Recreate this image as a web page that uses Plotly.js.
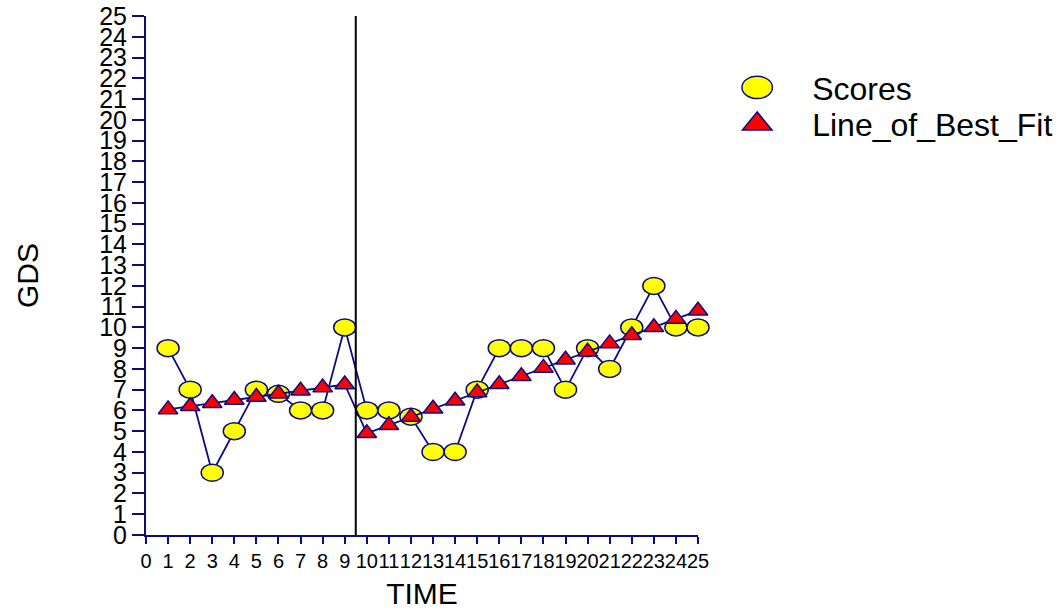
<!DOCTYPE html>
<html>
<head>
<meta charset="utf-8">
<script src="https://cdn.plot.ly/plotly-3.0.1.min.js"></script>
<style>
  html, body { margin: 0; padding: 0; background: #fff; }
  #chart { width: 1060px; height: 610px; }
</style>
</head>
<body>
<div id="chart"></div>
<script>
// Session numbers for each measurement
const time = [1, 2, 3, 4, 5, 6, 7, 8, 9, 10, 11, 12, 13, 14, 15, 16, 17, 18, 19, 20, 21, 22, 23, 24, 25];
// Observed GDS scores
const scores = [9, 7, 3, 5, 7, 6.8, 6, 6, 10, 6, 6, 5.7, 4, 4, 7, 9, 9, 9, 7, 9, 8, 10, 12, 10, 10];
// Fitted trend values (baseline phase 1-9, treatment phase 10-25)
const bestFit = [6.05, 6.2, 6.35, 6.5, 6.65, 6.8, 6.95, 7.1, 7.25,
                 4.9, 5.29, 5.69, 6.08, 6.47, 6.87, 7.26, 7.65, 8.05, 8.44, 8.83, 9.23, 9.62, 10.01, 10.41, 10.8];
// Phase change between sessions 9 and 10
const phaseChange = 9.5;
// Axis tick values
const xTicks = [0, 1, 2, 3, 4, 5, 6, 7, 8, 9, 10, 11, 12, 13, 14, 15, 16, 17, 18, 19, 20, 21, 22, 23, 24, 25];
const yTicks = [0, 1, 2, 3, 4, 5, 6, 7, 8, 9, 10, 11, 12, 13, 14, 15, 16, 17, 18, 19, 20, 21, 22, 23, 24, 25];

const NAVY = '#0c0c80';
const FONT = 'Liberation Sans, Arial, sans-serif';

const traces = [
  {
    x: time, y: scores, name: 'Scores', type: 'scatter', mode: 'lines+markers',
    line: { color: NAVY, width: 1.8 },
    marker: { symbol: 'circle', size: 17, color: '#ffff00', line: { color: NAVY, width: 1.5 } },
    cliponaxis: false
  },
  {
    x: time, y: bestFit, name: 'Line_of_Best_Fit', type: 'scatter', mode: 'lines+markers',
    line: { color: NAVY, width: 1.8 },
    marker: { symbol: 'triangle-up', size: 17, color: '#ff0000', line: { color: NAVY, width: 1.5 } },
    cliponaxis: false
  }
];

const layout = {
  width: 1060, height: 610,
  margin: { l: 146, r: 362, t: 16, b: 75, autoexpand: false },
  paper_bgcolor: '#ffffff', plot_bgcolor: '#ffffff',
  font: { family: FONT, color: '#000000' },
  showlegend: true,
  legend: {
    x: 1.071, xanchor: 'left', y: 0.915, yanchor: 'top',
    font: { family: FONT, size: 32, color: '#000000' },
    bgcolor: 'rgba(0,0,0,0)', itemwidth: 30
  },
  xaxis: {
    range: [0, 25], tickmode: 'array', tickvals: xTicks, ticktext: xTicks.map(String),
    tickangle: 0,
    showgrid: false, zeroline: false, showline: true, linecolor: NAVY, linewidth: 2,
    ticks: 'outside', ticklen: 7, tickcolor: NAVY, tickwidth: 2,
    tickfont: { family: FONT, size: 20, color: '#000000' },
    title: { text: 'TIME', font: { family: FONT, size: 30, color: '#000000' }, standoff: 14 },
    automargin: false
  },
  yaxis: {
    range: [0, 25], tickmode: 'array', tickvals: yTicks, ticktext: yTicks.map(String),
    showgrid: false, zeroline: false, showline: true, linecolor: NAVY, linewidth: 2,
    ticks: 'outside', ticklen: 12, tickcolor: NAVY, tickwidth: 2,
    tickfont: { family: FONT, size: 25, color: '#000000' },
    title: { text: 'GDS', font: { family: FONT, size: 30, color: '#000000' }, standoff: 52 },
    automargin: false
  },
  shapes: [
    { type: 'line', xref: 'x', yref: 'y', x0: phaseChange, x1: phaseChange, y0: 0, y1: 25,
      line: { color: '#000000', width: 2 } }
  ]
};

const gd = document.getElementById('chart');
Plotly.newPlot(gd, traces, layout, { staticPlot: true }).then(function () {
  // Stretch the score markers horizontally into ellipses
  const scoreTrace = gd.querySelectorAll('.scatterlayer .trace')[0];
  scoreTrace.querySelectorAll('path.point').forEach(function (p) {
    p.setAttribute('transform', p.getAttribute('transform') + ' scale(1.3,1)');
    p.style.vectorEffect = 'non-scaling-stroke';
  });
  // Legend: markers only, drawn larger, with a wider gap before the label
  const legend = gd.querySelector('.legend');
  const clip = legend && legend.querySelector('.scrollbox');
  if (clip) clip.removeAttribute('clip-path');
  legend.querySelectorAll('clipPath rect').forEach(function (r) {
    r.setAttribute('width', '400');
  });
  const items = gd.querySelectorAll('.legend .traces');
  items.forEach(function (item, i) {
    item.querySelectorAll('.legendlines path').forEach(function (p) { p.style.display = 'none'; });
    item.querySelectorAll('.legendpoints path').forEach(function (p) {
      const s = i === 0 ? 'scale(1.9,1.4)' : 'scale(1.6,1.5)';
      p.setAttribute('transform', p.getAttribute('transform') + ' ' + s);
      p.style.vectorEffect = 'non-scaling-stroke';
    });
    const t = item.querySelector('text.legendtext');
    if (t) t.setAttribute('x', String(parseFloat(t.getAttribute('x') || 40) + 35));
    if (i === 1) {
      const tr = item.getAttribute('transform') || '';
      const m = tr.match(/translate\(([-\d.]+)[ ,]+([-\d.]+)\)/);
      if (m) item.setAttribute('transform', 'translate(' + m[1] + ',' + (parseFloat(m[2]) - 8) + ')');
    }
  });
});
</script>
</body>
</html>
